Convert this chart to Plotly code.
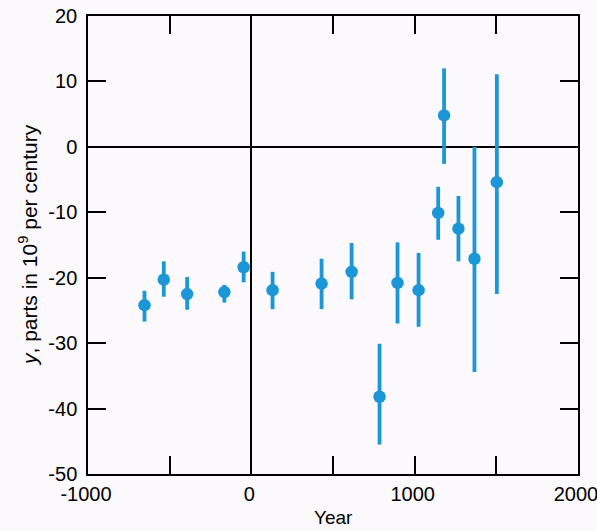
import plotly.graph_objects as go

# Data
years = [-654, -536, -393, -165, -47, 130, 430, 614, 785, 895, 1024, 1144, 1180, 1268, 1366, 1503]
values = [-24.2, -20.3, -22.5, -22.2, -18.4, -21.9, -20.9, -19.1, -38.2, -20.8, -21.9, -10.1, 4.8, -12.5, -17.1, -5.4]
upper = [-22.0, -17.5, -19.9, -21.1, -16.0, -19.1, -17.1, -14.7, -30.1, -14.6, -16.2, -6.1, 12.0, -7.5, 0.0, 11.1]
lower = [-26.7, -22.9, -24.9, -23.8, -20.7, -24.8, -24.8, -23.3, -45.5, -27.0, -27.5, -14.2, -2.6, -17.5, -34.4, -22.5]

x_tickvals = [-1000, 0, 1000, 2000]
x_ticktext = ["-1000", "0", "1000", "2000"]
y_tickvals = [20, 10, 0, -10, -20, -30, -40, -50]
y_ticktext = ["20", "10", "0", "-10", "-20", "-30", "-40", "-50"]

err_plus = [u - v for u, v in zip(upper, values)]
err_minus = [v - l for v, l in zip(values, lower)]

color = "#1b96d6"
bg = "#fbf9fb"
font_family = "Liberation Sans, Arial, sans-serif"

fig = go.Figure()
fig.add_trace(go.Scatter(
    x=years, y=values, mode="markers",
    marker=dict(color=color, size=12.5),
    error_y=dict(type="data", symmetric=False, array=err_plus, arrayminus=err_minus,
                 color=color, thickness=3.8, width=0),
    showlegend=False,
))

axis_common = dict(
    showline=True, linecolor="black", linewidth=1.5, mirror="ticks",
    ticks="inside", ticklen=18, tickwidth=1.5, tickcolor="black",
    showgrid=False, zeroline=True, zerolinecolor="black", zerolinewidth=1.5,
    tickfont=dict(family=font_family, size=20, color="black"),
    automargin=False,
)

fig.update_xaxes(range=[-1000, 2000], tickmode="array", tickvals=x_tickvals, ticktext=x_ticktext,
                 minor=dict(dtick=500, tick0=0, ticks="inside", ticklen=18, tickwidth=1.5,
                            tickcolor="black", showgrid=False),
                 ticklabelstandoff=1, ticklabeloverflow="allow", ticklabelshift=-2,
                 **axis_common)
fig.update_yaxes(range=[-50, 20], tickmode="array", tickvals=y_tickvals, ticktext=y_ticktext,
                 ticklabelstandoff=5,
                 **axis_common)

fig.add_annotation(text="<i>y</i>, parts in 10<sup>9</sup> per century",
                   xref="paper", yref="paper", x=0, y=0.5, xanchor="center", yanchor="middle",
                   xshift=-60, textangle=-90, showarrow=False,
                   font=dict(family=font_family, size=21, color="black"))
fig.add_annotation(text="Year",
                   xref="paper", yref="paper", x=0.5, y=0, xanchor="center", yanchor="middle",
                   yshift=-43, showarrow=False,
                   font=dict(family=font_family, size=19, color="black"))

fig.update_layout(
    width=597, height=531,
    margin=dict(l=88, r=19, t=16, b=57),
    paper_bgcolor=bg, plot_bgcolor=bg,
    font=dict(family=font_family, color="black"),
)

fig.write_html("out.html", config={"displayModeBar": False},
               post_script="document.body.style.margin='0';document.body.style.background='" + bg + "';")
